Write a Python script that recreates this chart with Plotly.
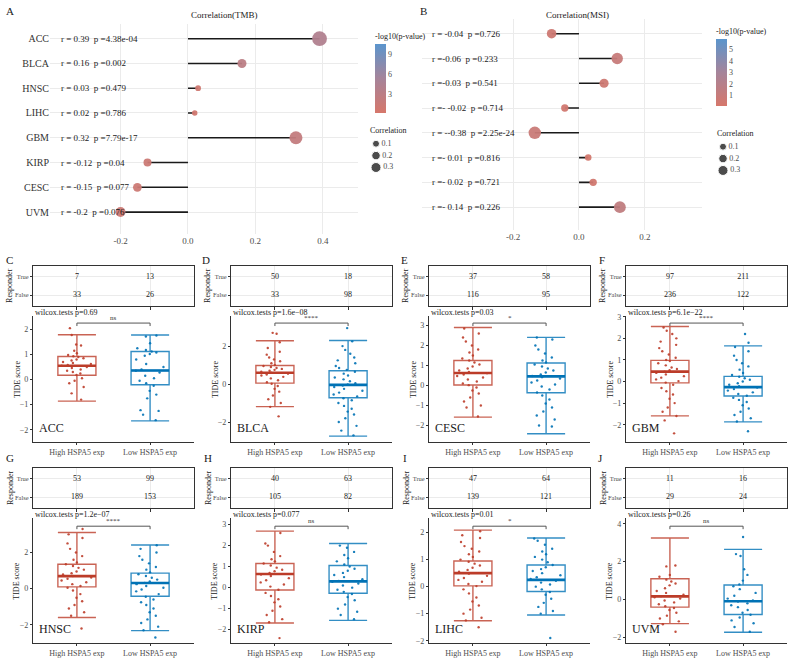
import plotly.graph_objects as go

W, H = 789, 659
FONT = "Liberation Serif"
RED = "#BC3C29"
BLUE = "#0072B5"
RED_A = "rgba(188,60,41,0.8)"
BLUE_A = "rgba(0,114,181,0.8)"
GRID = "#EBEBEB"
AX = "#333333"
TXT = "#4D4D4D"
CSCALE = [[0, "#D6776B"], [0.5, "#A6849A"], [1, "#5B95CD"]]

# ---------------- DATA ----------------
tmb_cancers = ["ACC", "BLCA", "HNSC", "LIHC", "GBM", "KIRP", "CESC", "UVM"]
tmb_r = [0.39, 0.16, 0.03, 0.02, 0.32, -0.12, -0.15, -0.20]
tmb_text = ["r = 0.39  p =4.38e-04", "r = 0.16  p =0.002", "r = 0.03  p =0.479",
            "r = 0.02  p =0.786", "r = 0.32  p =7.79e-17", "r = -0.12  p =0.04",
            "r = -0.15  p =0.077", "r = -0.2  p =0.076"]
tmb_logp = [4.2, 3.0, 0.9, 0.7, 2.2, 1.3, 1.2, 1.2]

msi_r = [-0.083, 0.116, 0.076, -0.043, -0.134, 0.028, 0.043, 0.124]
msi_text = ["r = -0.04  p =0.726", "r =-0.06  p =0.233", "r =-0.03  p =0.541",
            "r =- -0.02  p =0.714", "r = --0.38  p =2.25e-24", "r =- 0.01  p =0.816",
            "r =- 0.02  p =0.721", "r =- 0.14  p =0.226"]
msi_logp = [0.6, 1.0, 0.6, 0.4, 0.9, 0.3, 0.4, 1.4]

size_legend_vals = [0.1, 0.2, 0.3]

panel_cancers = ["ACC", "BLCA", "CESC", "GBM", "HNSC", "KIRP", "LIHC", "UVM"]
panel_letters = ["C", "D", "E", "F", "G", "H", "I", "J"]
group_labels = ["High HSPA5 exp", "Low HSPA5 exp"]
resp_true_high = [7, 50, 37, 97, 53, 40, 47, 11]
resp_true_low = [13, 18, 58, 211, 99, 63, 64, 16]
resp_false_high = [33, 33, 116, 236, 189, 105, 139, 29]
resp_false_low = [26, 98, 95, 122, 153, 82, 121, 24]
wilcox_p = ["0.69", "1.6e\u221208", "0.03", "6.1e\u221222", "1.2e\u221207", "0.077", "0.01", "0.26"]
signif = ["ns", "****", "*", "****", "****", "ns", "*", "ns"]

high_q1 = [0.17, 0.05, 0.03, -0.06, 0.10, -0.11, 0.03, -0.40]
high_med = [0.55, 0.60, 0.63, 0.46, 0.69, 0.65, 0.50, 0.17]
high_q3 = [0.92, 0.98, 1.25, 0.98, 1.35, 1.15, 0.95, 1.10]
high_lo = [-0.86, -1.19, -1.58, -1.59, -1.59, -1.68, -1.26, -1.27]
high_hi = [1.79, 2.28, 2.90, 2.55, 3.10, 2.69, 2.09, 3.25]
low_q1 = [-0.21, -0.72, -0.36, -0.67, -0.42, -0.27, -0.18, -0.79]
low_med = [0.36, -0.04, 0.46, -0.26, 0.31, 0.30, 0.25, -0.09]
low_q3 = [1.12, 0.70, 1.13, 0.24, 0.86, 1.05, 0.80, 0.77]
low_lo = [-1.65, -2.74, -2.41, -1.87, -2.32, -1.56, -1.05, -1.73]
low_hi = [1.78, 2.30, 2.41, 1.65, 2.41, 2.10, 1.80, 2.65]

high_points = [
    [2.05, 1.78, 1.40, 1.36, 1.15, 1.05, 0.98, 0.93, 0.90, 0.85, 0.80, 0.76, 0.70, 0.66, 0.62,
     0.58, 0.55, 0.50, 0.46, 0.40, 0.35, 0.30, 0.24, 0.18, 0.05, -0.05, -0.15, -0.30, -0.55, -0.80],
    [2.70, 2.65, 2.20, 1.90, 1.70, 1.55, 1.40, 1.30, 1.20, 1.10, 1.00, 0.95, 0.90, 0.85, 0.80,
     0.75, 0.70, 0.65, 0.60, 0.55, 0.50, 0.45, 0.38, 0.30, 0.20, 0.10, 0.02, -0.10, -0.25, -0.40,
     -0.60, -0.80, -1.00, -1.20, -1.70],
    [2.85, 2.60, 2.40, 2.20, 2.00, 1.80, 1.65, 1.50, 1.35, 1.25, 1.15, 1.05, 0.95, 0.85, 0.75,
     0.68, 0.62, 0.55, 0.48, 0.40, 0.30, 0.20, 0.10, 0.02, -0.10, -0.25, -0.40, -0.60, -0.80,
     -1.00, -1.10, -1.55],
    [2.50, 2.35, 2.20, 2.00, 1.85, 1.70, 1.55, 1.40, 1.25, 1.10, 1.00, 0.95, 0.85, 0.75, 0.65,
     0.58, 0.52, 0.46, 0.40, 0.33, 0.25, 0.18, 0.10, 0.02, -0.05, -0.15, -0.30, -0.45, -0.60,
     -0.80, -1.00, -1.20, -1.40, -1.60, -1.80, -2.40],
    [3.30, 3.00, 2.80, 2.50, 2.20, 2.00, 1.80, 1.60, 1.45, 1.35, 1.25, 1.15, 1.05, 0.95, 0.85,
     0.78, 0.70, 0.62, 0.55, 0.45, 0.35, 0.25, 0.15, 0.05, -0.10, -0.30, -0.50, -0.70, -0.90,
     -1.10, -1.30, -1.50, -2.20],
    [2.60, 2.10, 2.00, 1.70, 1.50, 1.35, 1.25, 1.15, 1.05, 0.95, 0.85, 0.78, 0.70, 0.62, 0.55,
     0.45, 0.35, 0.25, 0.15, 0.05, -0.10, -0.25, -0.40, -0.55, -0.70, -0.90, -1.10, -1.30, -1.50,
     -1.65, -2.40],
    [2.05, 1.90, 1.80, 1.65, 1.50, 1.40, 1.30, 1.20, 1.10, 1.00, 0.92, 0.85, 0.78, 0.70, 0.62,
     0.55, 0.48, 0.40, 0.32, 0.25, 0.18, 0.10, 0.02, -0.10, -0.25, -0.40, -0.55, -0.70, -0.85,
     -1.00, -1.15, -1.25, -1.50],
    [1.80, 1.75, 1.30, 1.20, 1.05, 0.95, 0.85, 0.75, 0.60, 0.45, 0.35, 0.25, 0.18, 0.12, 0.05,
     -0.05, -0.15, -0.25, -0.35, -0.45, -0.55, -0.70, -0.85, -1.00, -1.15, -1.30, -1.70],
]
low_points = [
    [1.76, 1.72, 1.45, 1.25, 1.18, 1.12, 1.08, 1.02, 0.95, 0.80, 0.62, 0.50, 0.40, 0.35, 0.28,
     0.15, 0.05, -0.05, -0.15, -0.25, -0.45, -0.60, -0.75, -1.22, -1.25, -1.40, -1.62],
    [2.95, 2.25, 2.00, 1.80, 1.60, 1.40, 1.25, 1.10, 0.95, 0.85, 0.75, 0.65, 0.55, 0.45, 0.35,
     0.25, 0.15, 0.05, -0.02, -0.08, -0.15, -0.25, -0.35, -0.45, -0.55, -0.65, -0.75, -0.85,
     -1.00, -1.15, -1.30, -1.45, -1.60, -1.80, -2.00, -2.20, -2.45, -2.70],
    [2.40, 2.30, 2.00, 1.80, 1.60, 1.40, 1.25, 1.15, 1.05, 0.95, 0.85, 0.75, 0.65, 0.55, 0.48,
     0.42, 0.35, 0.25, 0.15, 0.05, -0.05, -0.20, -0.35, -0.50, -0.70, -0.90, -1.10, -1.30, -1.50,
     -1.70, -2.00, -2.05],
    [2.20, 1.80, 1.60, 1.40, 1.20, 1.00, 0.85, 0.70, 0.55, 0.40, 0.30, 0.22, 0.15, 0.08, 0.00,
     -0.08, -0.15, -0.22, -0.28, -0.35, -0.42, -0.50, -0.58, -0.66, -0.75, -0.85, -0.95, -1.10,
     -1.25, -1.40, -1.55, -1.70, -1.85, -2.30],
    [2.40, 2.20, 2.00, 1.80, 1.60, 1.40, 1.20, 1.05, 0.90, 0.80, 0.70, 0.60, 0.50, 0.40, 0.32,
     0.25, 0.15, 0.05, -0.05, -0.15, -0.30, -0.45, -0.60, -0.75, -0.90, -1.10, -1.30, -1.50,
     -1.70, -1.90, -2.10, -2.30, -2.70],
    [2.00, 1.90, 1.70, 1.55, 1.40, 1.25, 1.10, 1.00, 0.90, 0.80, 0.70, 0.60, 0.50, 0.40, 0.32,
     0.28, 0.20, 0.10, 0.00, -0.10, -0.20, -0.30, -0.45, -0.60, -0.80, -1.00, -1.15, -1.30, -1.50],
    [1.78, 1.70, 1.55, 1.40, 1.30, 1.20, 1.10, 1.00, 0.90, 0.80, 0.72, 0.65, 0.58, 0.50, 0.42,
     0.35, 0.28, 0.22, 0.15, 0.08, 0.00, -0.10, -0.20, -0.30, -0.45, -0.60, -0.75, -0.90, -1.00,
     -1.90],
    [3.30, 2.40, 2.30, 1.60, 1.30, 1.00, 0.80, 0.70, 0.55, 0.35, 0.20, 0.05, -0.05, -0.10, -0.20,
     -0.30, -0.40, -0.55, -0.70, -0.80, -0.95, -1.10, -1.25, -1.45, -1.70],
]
box_yrange = [[-2.49, 2.53], [-3.05, 3.58], [-2.82, 3.47], [-2.8, 3.03],
              [-3.01, 3.89], [-2.64, 3.3], [-2.09, 2.53], [-2.3, 4.29]]
box_dtick = [1, 2, 1, 1, 2, 1, 1, 2]


# ---------------- HELPERS ----------------
def fx(p):
    return p / W


def fy(p):
    return 1 - p / H


lay = {}
ann = []
shapes = []
fig = go.Figure()
counter = [0]


def new_axes(xdom, ydom, xa, ya):
    counter[0] += 1
    n = counter[0]
    s = "" if n == 1 else str(n)
    lay["xaxis" + s] = dict(domain=xdom, anchor="y" + s, **xa)
    lay["yaxis" + s] = dict(domain=ydom, anchor="x" + s, **ya)
    return "x" + s, "y" + s


def text(x, y, t, size=8, xanchor="left", color="#1A1A1A", xref="paper", yref="paper", **kw):
    ann.append(dict(x=x, y=y, text=t, xref=xref, yref=yref, xanchor=xanchor, yanchor="middle",
                    showarrow=False, font=dict(family=FONT, size=size, color=color), **kw))


# ---------------- LOLLIPOP PANELS ----------------
def lollipop(xpx, ypx, xrange, rvals, labels, logp, cats, cmax, cbx, cby, cbticks, size_fn, title, title_x, letter, letter_x):
    n = len(rvals)
    rows = list(range(n, 0, -1))
    xa = dict(range=xrange, tickvals=[-0.2, 0, 0.2, 0.4], ticktext=["-0.2", "0.0", "0.2", "0.4"],
              showgrid=True, gridcolor=GRID, gridwidth=1, zeroline=False, showline=False, ticks="",
              tickfont=dict(family=FONT, size=9, color=TXT), fixedrange=True)
    ya = dict(range=[ypx[2], ypx[3]], tickvals=rows, showgrid=True, gridcolor=GRID, gridwidth=1,
              zeroline=False, showline=False, ticks="", fixedrange=True)
    if cats:
        ya.update(ticktext=cats, tickfont=dict(family=FONT, size=10, color="#333333"))
    else:
        ya.update(showticklabels=False)
    xn, yn = new_axes([fx(xpx[0]), fx(xpx[1])], [fy(ypx[1]), fy(ypx[0])], xa, ya)
    sx, sy = [], []
    for r, row in zip(rvals, rows):
        sx += [0, r, None]
        sy += [row, row, None]
    fig.add_trace(go.Scatter(x=sx, y=sy, mode="lines", line=dict(color="#1A1A1A", width=1.6),
                             xaxis=xn, yaxis=yn, hoverinfo="skip"))
    fig.add_trace(go.Scatter(
        x=rvals, y=rows, mode="markers", xaxis=xn, yaxis=yn,
        marker=dict(size=[size_fn(abs(r)) for r in rvals], color=logp, colorscale=CSCALE,
                    cmin=cmax[0], cmax=cmax[1], opacity=0.95, line=dict(width=0),
                    showscale=True,
                    colorbar=dict(x=fx(cbx), xanchor="left", xpad=0, y=fy(cby[1]), yanchor="bottom", ypad=0,
                                  len=cby[1] - cby[0] + 16, lenmode="pixels", thickness=11, outlinewidth=0,
                                  title=dict(text="-log10(p-value)", side="top",
                                             font=dict(family=FONT, size=8, color="#1A1A1A")),
                                  tickvals=cbticks, ticks="",
                                  tickfont=dict(family=FONT, size=8, color=TXT)))))
    for lab, row in zip(labels, rows):
        text(0.03, row, lab, size=9, xref=xn + " domain", yref=yn)
    text(fx(title_x), fy(11), title, size=9, xanchor="center")
    text(fx(letter_x), fy(7), letter, size=11)


lollipop([50, 358], [20, 232, 0.12, 8.6], [-0.409, 0.504], tmb_r, tmb_text, tmb_logp, tmb_cancers,
         [0.14, 10.6], 375, [43, 110], [3, 6, 9], lambda v: 5 + 25 * v, "Correlation(TMB)", 224, "A", 4)
lollipop([422, 702], [15, 228, 0.08, 8.6], [-0.476, 0.373], msi_r, msi_text, msi_logp, None,
         [0.1, 5.9], 716, [38, 103], [1, 2, 3, 4, 5], lambda v: 5 + 55 * v, "Correlation(MSI)", 577, "B", 418)


# size legends
def size_legend(x0, ytitle, ydots):
    xn, yn = new_axes([fx(x0), fx(x0 + 40)], [fy(ydots + 30), fy(ydots - 6)],
                      dict(range=[0, 1], visible=False, fixedrange=True),
                      dict(range=[0.35, 0.05], visible=False, fixedrange=True))
    fig.add_trace(go.Scatter(x=[0.15] * len(size_legend_vals), y=size_legend_vals, mode="markers+text",
                             text=[str(v) for v in size_legend_vals], textposition="middle right",
                             textfont=dict(family=FONT, size=8, color=TXT),
                             marker=dict(color="black", size=[5.5 + 15 * v for v in size_legend_vals]),
                             xaxis=xn, yaxis=yn, hoverinfo="skip"))
    text(fx(x0 - 2), fy(ytitle), "Correlation", size=8)


size_legend(370, 128, 141)
size_legend(717, 131, 144)

# ---------------- BOX PANELS ----------------
col_x0 = [33, 231, 429, 626]
letter_x = [[4, 200, 399, 597], [4, 202, 401, 596]]
for i in range(8):
    col, row = i % 4, i // 4
    x0 = col_x0[col]
    x1 = x0 + 161
    if row == 0:
        tt, tb, bt, bb, wy, by, ly = 264, 305, 315, 442, 311, 322, 258
    else:
        tt, tb, bt, bb, wy, by, ly = 468, 509, 519, 645, 515, 527, 458
    # table
    xa = dict(range=[-0.6, 1.6], tickvals=[0, 1], showticklabels=False, ticks="outside", ticklen=3,
              tickcolor=AX, showgrid=True, gridcolor=GRID, zeroline=False, showline=True, mirror=True,
              linecolor=AX, linewidth=1, fixedrange=True)
    ya = dict(range=[0.4, 2.6], tickvals=[1, 2], ticktext=["False", "True"], ticks="outside", ticklen=2,
              tickcolor=AX, showgrid=True, gridcolor=GRID, zeroline=False, showline=True, mirror=True,
              linecolor=AX, linewidth=1, fixedrange=True,
              tickfont=dict(family=FONT, size=6.5, color=TXT))
    txn, tyn = new_axes([fx(x0), fx(x1)], [fy(tb), fy(tt)], xa, ya)
    fig.add_trace(go.Scatter(x=[0, 1, 0, 1], y=[2, 2, 1, 1], mode="text",
                             text=[str(resp_true_high[i]), str(resp_true_low[i]),
                                   str(resp_false_high[i]), str(resp_false_low[i])],
                             textfont=dict(family=FONT, size=8, color="#1A1A1A"),
                             xaxis=txn, yaxis=tyn, hoverinfo="skip"))
    text(fx(x0 - 23), fy((tt + tb) / 2), "Responder", size=8, xanchor="center", textangle=-90)
    # box plot
    xa = dict(range=[-0.6, 1.6], tickvals=[0, 1], ticktext=group_labels, ticks="outside", ticklen=2,
              tickcolor=AX, showgrid=False, zeroline=False, showline=True, linecolor=AX, linewidth=1,
              tickfont=dict(family=FONT, size=8, color=TXT), fixedrange=True)
    ya = dict(range=box_yrange[i], dtick=box_dtick[i], tick0=0, ticks="outside", ticklen=2, tickcolor=AX,
              showgrid=False, zeroline=False, showline=True, linecolor=AX, linewidth=1.2,
              tickfont=dict(family=FONT, size=8, color=TXT), fixedrange=True)
    bxn, byn = new_axes([fx(x0), fx(x1)], [fy(bb), fy(bt)], xa, ya)
    text(fx(x0 - 16), fy((bt + bb) / 2), "TIDE score", size=8, xanchor="center", textangle=-90)
    groups = [
        (0, RED, RED_A, high_q1, high_med, high_q3, high_lo, high_hi, high_points),
        (1, BLUE, BLUE_A, low_q1, low_med, low_q3, low_lo, low_hi, low_points),
    ]
    for pos, colr, cola, q1, med, q3, lo, hi, pts in groups:
        fig.add_trace(go.Box(x=[pos], q1=[q1[i]], median=[med[i]], q3=[q3[i]], lowerfence=[lo[i]],
                             upperfence=[hi[i]], width=0.52, whiskerwidth=1, fillcolor="white",
                             line=dict(color=cola, width=1.4), boxpoints=False,
                             xaxis=bxn, yaxis=byn, hoverinfo="skip"))
        # thicker median line (degenerate box at the median)
        fig.add_trace(go.Box(x=[pos], q1=[med[i]], median=[med[i]], q3=[med[i]], lowerfence=[med[i]],
                             upperfence=[med[i]], width=0.52, whiskerwidth=1, fillcolor="rgba(0,0,0,0)",
                             line=dict(color=colr, width=2.6), boxpoints=False,
                             xaxis=bxn, yaxis=byn, hoverinfo="skip"))
        fig.add_trace(go.Box(y=pts[i], x0=pos, width=0.52, boxpoints="all", jitter=0.85, pointpos=0,
                             fillcolor="rgba(0,0,0,0)", line=dict(color="rgba(0,0,0,0)", width=0),
                             marker=dict(color=colr, size=2.4, opacity=0.9),
                             xaxis=bxn, yaxis=byn, hoverinfo="skip"))
    # bracket
    shapes.append(dict(type="path", xref=bxn, yref="paper",
                       path=f"M 0,{fy(by + 3)} L 0,{fy(by)} L 1,{fy(by)} L 1,{fy(by + 3)}",
                       line=dict(color="#555555", width=1)))
    text(0.5, fy(by - 5), signif[i], size=7, xanchor="center", xref=bxn, color="#333333")
    text(fx(x0), fy(wy), "wilcox.tests p=" + wilcox_p[i], size=8)
    text(fx(x0 + 4), fy(bb - 14), panel_cancers[i], size=12)
    text(fx(letter_x[row][col]), fy(ly), panel_letters[i], size=11)

fig.update_layout(**lay)
fig.update_layout(width=W, height=H, margin=dict(l=0, r=0, t=0, b=0), showlegend=False,
                  plot_bgcolor="white", paper_bgcolor="white", boxmode="overlay",
                  annotations=ann, shapes=shapes, font=dict(family=FONT, size=8))
fig.write_html("out.html", config={"displayModeBar": False, "staticPlot": True},
               post_script="document.body.style.margin='0px';document.body.style.overflow='hidden';")
